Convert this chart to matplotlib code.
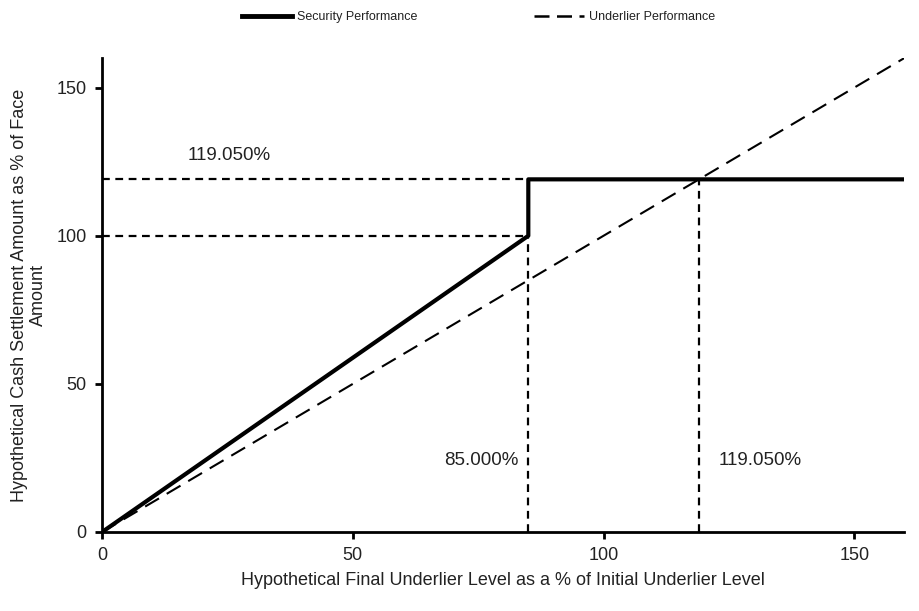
import matplotlib
matplotlib.use("Agg")
import matplotlib.pyplot as plt
from matplotlib.lines import Line2D

plt.rcParams['font.family'] = ['Liberation Sans', 'DejaVu Sans']

# Data
security_x = [0, 85, 85, 160]
security_y = [0, 100, 119.05, 119.05]
underlier_x = [0, 160]
underlier_y = [0, 160]
cap_level = 119.05
threshold = 85.0
par = 100.0
ticks = [0, 50, 100, 150]
labels = ["119.050%", "85.000%", "119.050%"]

txt = '#222222'

fig = plt.figure(figsize=(9.2, 6.11), dpi=100)
ax = fig.add_axes([0.111, 0.1293, 0.872, 0.7757])

ax.plot(underlier_x, underlier_y, color='black', lw=1.5, dashes=(7.7, 4.3))
ax.plot(security_x, security_y, color='black', lw=3, solid_capstyle='butt')

ref = dict(color='black', lw=1.6, dashes=(3.5, 2.5))
ax.plot([0, threshold], [cap_level, cap_level], **ref)
ax.plot([0, threshold], [par, par], **ref)
ax.plot([threshold, threshold], [0, par], **ref)
ax.plot([cap_level, cap_level], [0, cap_level], **ref)

ax.text(25.3, 127, labels[0], ha='center', va='center', fontsize=13.5, color=txt)
ax.text(75.6, 24, labels[1], ha='center', va='center', fontsize=13.5, color=txt)
ax.text(131.3, 24, labels[2], ha='center', va='center', fontsize=13.5, color=txt)

ax.set_xlim(0, 160)
ax.set_ylim(0, 160)
ax.set_xticks(ticks)
ax.set_yticks(ticks)
ax.tick_params(direction='out', length=5, width=2, labelsize=13, labelcolor=txt, pad=6)
for s in ['top', 'right']:
    ax.spines[s].set_visible(False)
for s in ['left', 'bottom']:
    ax.spines[s].set_linewidth(2)

ax.set_xlabel("Hypothetical Final Underlier Level as a % of Initial Underlier Level",
              fontsize=13, color=txt)
ax.set_ylabel("Hypothetical Cash Settlement Amount as % of Face\nAmount",
              fontsize=13, color=txt, linespacing=1.15)
ax.xaxis.set_label_coords(0.5, -0.084)
ax.yaxis.set_label_coords(-0.069, 0.5)

handles = [Line2D([], [], color='black', lw=3.5),
           Line2D([], [], color='black', lw=1.8, dashes=(6, 3))]
fig.legend(handles, ["Security Performance", "Underlier Performance"],
           loc='center', bbox_to_anchor=(0.52, 0.972), ncol=2, frameon=False,
           fontsize=9, handlelength=4, columnspacing=9.3, handletextpad=0.4,
           labelcolor=txt)

fig.savefig("out.png", dpi=100)
